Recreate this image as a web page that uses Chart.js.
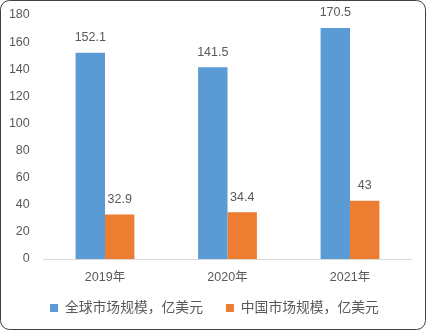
<!DOCTYPE html>
<html>
<head>
<meta charset="utf-8">
<script src="https://cdn.jsdelivr.net/npm/chart.js@4/dist/chart.umd.min.js"></script>
<style>
  html, body { margin: 0; padding: 0; background: #fff; }
  #wrap { width: 426px; height: 330px; position: relative; }
</style>
</head>
<body>
<div id="wrap"><canvas id="c" width="426" height="330"></canvas></div>
<script>
const categories = ['2019年', '2020年', '2021年'];
const globalMarket = [152.1, 141.5, 170.5];
const chinaMarket = [32.9, 34.4, 43];
const seriesNames = ['全球市场规模，亿美元', '中国市场规模，亿美元'];
const yTicks = [0, 20, 40, 60, 80, 100, 120, 140, 160, 180];

const textColor = '#595959';
const fontFamily = '"Liberation Sans", "Noto Sans CJK SC", sans-serif';

// Rounded frame around the whole chart
const framePlugin = {
  id: 'frame',
  beforeDraw(chart) {
    const ctx = chart.ctx;
    ctx.save();
    ctx.fillStyle = '#fff';
    ctx.fillRect(0, 0, chart.width, chart.height);
    ctx.strokeStyle = '#404040';
    ctx.lineWidth = 1;
    ctx.beginPath();
    ctx.roundRect(0.5, 0.5, chart.width - 1, chart.height - 1, 9);
    ctx.stroke();
    ctx.restore();
  }
};

// Nudge the legend box: a little higher and centred under the whole frame
const legendNudge = {
  id: 'legendNudge',
  afterLayout(chart) {
    const lg = chart.legend;
    if (!lg) return;
    lg.top -= 9; lg.bottom -= 9;
    lg.left += 8.8; lg.right += 8.8;
  }
};

// Value labels above each bar
const valueLabels = {
  id: 'valueLabels',
  afterDatasetsDraw(chart) {
    const ctx = chart.ctx;
    ctx.save();
    ctx.fillStyle = textColor;
    ctx.font = '12.5px ' + fontFamily;
    ctx.textAlign = 'center';
    ctx.textBaseline = 'middle';
    chart.data.datasets.forEach((ds, i) => {
      chart.getDatasetMeta(i).data.forEach((bar, j) => {
        ctx.fillText(String(ds.data[j]), bar.x, bar.y - 15);
      });
    });
    ctx.restore();
  }
};

new Chart(document.getElementById('c'), {
  type: 'bar',
  data: {
    labels: categories,
    datasets: [
      { label: seriesNames[0], data: globalMarket, backgroundColor: '#5B9BD5' },
      { label: seriesNames[1], data: chinaMarket, backgroundColor: '#ED7D31' }
    ]
  },
  options: {
    responsive: false,
    animation: false,
    devicePixelRatio: 1,
    layout: { padding: { top: 15, right: 14.75, bottom: -3.8, left: 0 } },
    datasets: { bar: { barPercentage: 1.0, categoryPercentage: 0.48 } },
    scales: {
      x: {
        grid: { display: false, drawTicks: false },
        border: { display: true, color: '#D9D9D9', width: 1 },
        ticks: { color: textColor, font: { family: fontFamily, size: 12.5 }, padding: 11 },
        afterFit(scale) { scale.height = 28; scale.paddingLeft = 0; scale.paddingRight = 0; }
      },
      y: {
        min: 0, max: 180,
        afterBuildTicks(scale) { scale.ticks = yTicks.map(v => ({ value: v })); },
        grid: { display: false, drawTicks: false },
        border: { display: false },
        ticks: { color: textColor, font: { family: fontFamily, size: 12.5 }, padding: 14 },
        afterFit(scale) { scale.width = 43.75; scale.paddingTop = 0; scale.paddingBottom = 0; }
      }
    },
    plugins: {
      legend: {
        position: 'bottom',
        labels: {
          color: textColor,
          font: { family: fontFamily, size: 13.8 },
          boxWidth: 8, boxHeight: 8,
          padding: 23
        }
      },
      tooltip: { enabled: false }
    }
  },
  plugins: [framePlugin, legendNudge, valueLabels]
});
</script>
</body>
</html>
